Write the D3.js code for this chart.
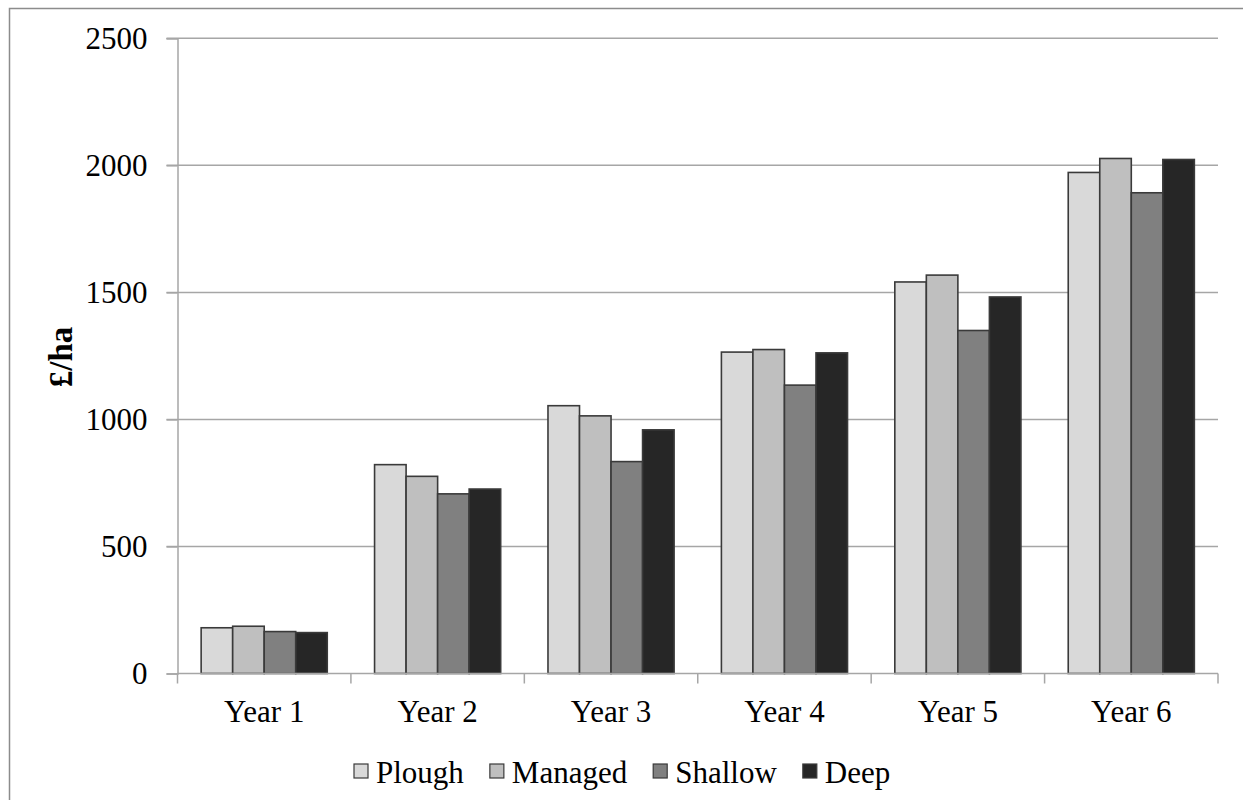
<!DOCTYPE html>
<html>
<head>
<meta charset="utf-8">
<script src="https://cdn.jsdelivr.net/npm/d3@7"></script>
<style>
  html, body { margin: 0; padding: 0; background: #fff; }
  svg { display: block; }
  text { font-family: "Liberation Serif", "Times New Roman", serif; fill: #000; }
</style>
</head>
<body>
<svg id="chart" width="1243" height="800"></svg>
<script>
const categories = ["Year 1", "Year 2", "Year 3", "Year 4", "Year 5", "Year 6"];
const seriesNames = ["Plough", "Managed", "Shallow", "Deep"];
const plough  = [180, 822, 1054, 1265, 1541, 1972];
const managed = [186, 776, 1014, 1275, 1568, 2027];
const shallow = [165, 707, 834, 1135, 1350, 1892];
const deep    = [161, 726, 959, 1262, 1482, 2023];
const seriesColors = ["#d9d9d9", "#bfbfbf", "#808080", "#262626"];
const yTicks = [0, 500, 1000, 1500, 2000, 2500];

const seriesValues = [plough, managed, shallow, deep];
const FONT = "'Liberation Serif', 'Times New Roman', serif";

const svg = d3.select("#chart");

// outer frame (only left/top visible in the reference)
svg.append("rect")
  .attr("x", 9.5).attr("y", 8.5)
  .attr("width", 1260).attr("height", 820)
  .attr("fill", "none").attr("stroke", "#8c8c8c").attr("stroke-width", 1.5);

const plotL = 177.5, plotR = 1218, plotT = 38.3, plotB = 673.5;

const y = d3.scaleLinear().domain([0, 2500]).range([plotB, plotT]);
const x0 = d3.scaleBand().domain(categories).range([plotL, plotR]).padding(0);
const bw = x0.bandwidth();
const gapHalf = bw * 0.75 / 5.5;
const x1 = d3.scaleBand().domain(seriesNames).range([gapHalf, bw - gapHalf]).padding(0);

// gridlines
svg.append("g").selectAll("line").data(yTicks.filter(d => d > 0)).join("line")
  .attr("x1", plotL - 11).attr("x2", plotR)
  .attr("y1", d => y(d)).attr("y2", d => y(d))
  .attr("stroke", "#a6a6a6").attr("stroke-width", 1.5);

// y axis
const yAxis = d3.axisLeft(y).tickValues(yTicks).tickSize(11).tickPadding(19).tickFormat(d3.format("d"));
const gy = svg.append("g").attr("transform", `translate(${plotL},0)`).call(yAxis);
gy.attr("font-family", FONT);
gy.select(".domain").attr("stroke", "#a6a6a6").attr("stroke-width", 1.5);
gy.selectAll(".tick line").attr("stroke", "#a6a6a6").attr("stroke-width", 1.5);
gy.selectAll(".tick text").attr("font-size", 31).attr("font-family", FONT).attr("fill", "#000");

// bars
const groups = svg.append("g").selectAll("g").data(categories).join("g")
  .attr("transform", d => `translate(${x0(d)},0)`);
groups.selectAll("rect")
  .data((c, i) => seriesNames.map((s, k) => ({ s, k, v: seriesValues[k][i] })))
  .join("rect")
  .attr("x", d => x1(d.s))
  .attr("width", x1.bandwidth())
  .attr("y", d => y(d.v))
  .attr("height", d => y(0) - y(d.v))
  .attr("fill", d => seriesColors[d.k])
  .attr("stroke", "#3a3a3a").attr("stroke-width", 1.6);

// x axis
const gx = svg.append("g").attr("transform", `translate(0,${plotB})`);
gx.append("line").attr("x1", plotL).attr("x2", plotR).attr("y1", 0).attr("y2", 0)
  .attr("stroke", "#a6a6a6").attr("stroke-width", 1.5);
const boundaries = categories.map(c => x0(c)).concat([plotR]);
gx.selectAll("line.tk").data(boundaries).join("line").attr("class", "tk")
  .attr("x1", d => d).attr("x2", d => d).attr("y1", 0).attr("y2", 10)
  .attr("stroke", "#a6a6a6").attr("stroke-width", 1.5);
gx.selectAll("text.cat").data(categories).join("text").attr("class", "cat")
  .attr("x", d => x0(d) + bw / 2).attr("y", 722 - plotB)
  .attr("text-anchor", "middle").attr("font-size", 31).attr("font-family", FONT)
  .text(d => d);

// y title
svg.append("text")
  .attr("transform", "translate(72,357) rotate(-90)")
  .attr("text-anchor", "middle").attr("font-size", 33).attr("font-weight", "bold")
  .attr("font-family", FONT)
  .text("£/ha");

// legend (laid out from measured text widths)
const lg = svg.append("g");
let lx = 354;
seriesNames.forEach((name, i) => {
  lg.append("rect").attr("x", lx).attr("y", 764).attr("width", 14).attr("height", 14)
    .attr("fill", seriesColors[i]).attr("stroke", "#3a3a3a").attr("stroke-width", 1.2);
  const t = lg.append("text").attr("x", lx + 22).attr("y", 783)
    .attr("font-size", 31).attr("font-family", FONT).text(name);
  lx += 22 + t.node().getComputedTextLength() + 26;
});
</script>
</body>
</html>
